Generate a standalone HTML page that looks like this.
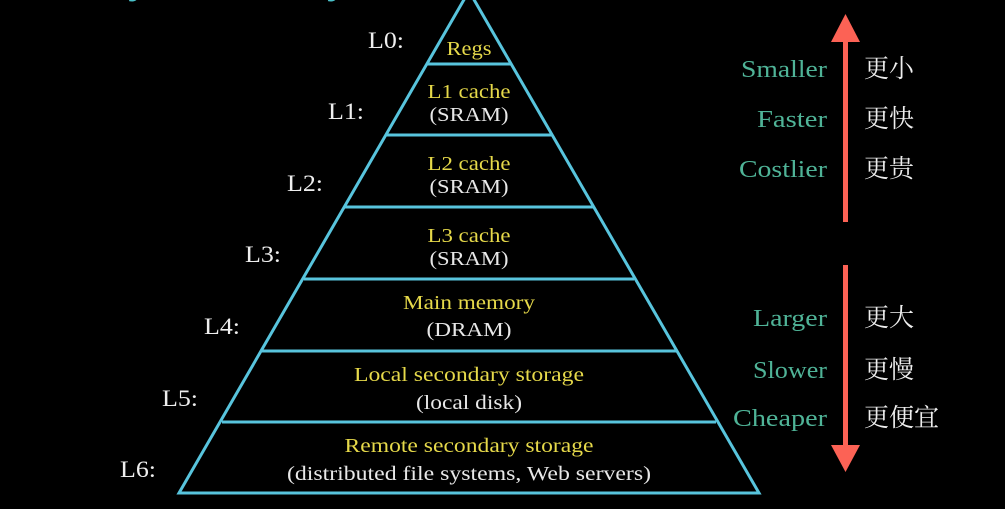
<!DOCTYPE html>
<html><head><meta charset="utf-8"><style>
html,body{margin:0;padding:0;background:#000;width:1005px;height:509px;overflow:hidden}
svg{display:block}
.s{font-family:"Liberation Serif","Noto Serif CJK SC",serif}
.y{fill:#e6d94a;font-size:20px}
.w{fill:#e8e8e8;font-size:20px}
.l{fill:#eeeeee;font-size:23px}
.t{fill:#4fb397;font-size:24px}
.c{fill:#eeeeee;font-size:25px;font-family:"Noto Serif CJK SC","Noto Sans CJK SC",serif}
</style></head><body>
<svg width="1005" height="509" viewBox="0 0 1005 509" xmlns="http://www.w3.org/2000/svg">
<text x="0" y="-8" class="s" style="fill:#49c0c8;font-size:46px;font-style:italic">Memory Hierarchy</text>
<g stroke="#58c4dd" stroke-width="3" fill="none">
<polygon points="469,-9 759,493 179,493" stroke-linejoin="miter"/>
<line x1="427" y1="64" x2="511" y2="64"/>
<line x1="386" y1="135" x2="552" y2="135"/>
<line x1="345" y1="207" x2="593" y2="207"/>
<line x1="304" y1="279" x2="634" y2="279"/>
<line x1="262" y1="351" x2="676" y2="351"/>
<line x1="222" y1="422" x2="716" y2="422"/>
</g>
<g class="s" text-anchor="middle" lengthAdjust="spacingAndGlyphs">
<text x="469" y="55" class="y" textLength="45" lengthAdjust="spacingAndGlyphs">Regs</text>
<text x="469" y="98" class="y" textLength="83" lengthAdjust="spacingAndGlyphs">L1 cache</text>
<text x="469" y="121" class="w" textLength="79" lengthAdjust="spacingAndGlyphs">(SRAM)</text>
<text x="469" y="170" class="y" textLength="83" lengthAdjust="spacingAndGlyphs">L2 cache</text>
<text x="469" y="193" class="w" textLength="79" lengthAdjust="spacingAndGlyphs">(SRAM)</text>
<text x="469" y="242" class="y" textLength="83" lengthAdjust="spacingAndGlyphs">L3 cache</text>
<text x="469" y="265" class="w" textLength="79" lengthAdjust="spacingAndGlyphs">(SRAM)</text>
<text x="469" y="309" class="y" textLength="132" lengthAdjust="spacingAndGlyphs">Main memory</text>
<text x="469" y="336" class="w" textLength="85" lengthAdjust="spacingAndGlyphs">(DRAM)</text>
<text x="469" y="381" class="y" textLength="230" lengthAdjust="spacingAndGlyphs">Local secondary storage</text>
<text x="469" y="409" class="w" textLength="106" lengthAdjust="spacingAndGlyphs">(local disk)</text>
<text x="469" y="452" class="y" textLength="249" lengthAdjust="spacingAndGlyphs">Remote secondary storage</text>
<text x="469" y="480" class="w" textLength="364" lengthAdjust="spacingAndGlyphs">(distributed file systems, Web servers)</text>
</g>
<g class="s l">
<text x="368" y="48" textLength="36" lengthAdjust="spacingAndGlyphs">L0:</text>
<text x="328" y="119" textLength="36" lengthAdjust="spacingAndGlyphs">L1:</text>
<text x="287" y="191" textLength="36" lengthAdjust="spacingAndGlyphs">L2:</text>
<text x="245" y="262" textLength="36" lengthAdjust="spacingAndGlyphs">L3:</text>
<text x="204" y="334" textLength="36" lengthAdjust="spacingAndGlyphs">L4:</text>
<text x="162" y="406" textLength="36" lengthAdjust="spacingAndGlyphs">L5:</text>
<text x="120" y="477" textLength="36" lengthAdjust="spacingAndGlyphs">L6:</text>
</g>
<g class="s t">
<text x="741" y="77" textLength="86" lengthAdjust="spacingAndGlyphs">Smaller</text>
<text x="757" y="127" textLength="70" lengthAdjust="spacingAndGlyphs">Faster</text>
<text x="739" y="177" textLength="88" lengthAdjust="spacingAndGlyphs">Costlier</text>
<text x="753" y="326" textLength="74" lengthAdjust="spacingAndGlyphs">Larger</text>
<text x="753" y="378" textLength="74" lengthAdjust="spacingAndGlyphs">Slower</text>
<text x="733" y="426" textLength="94" lengthAdjust="spacingAndGlyphs">Cheaper</text>
</g>
<g class="c">
<text x="864" y="77">更小</text>
<text x="864" y="127">更快</text>
<text x="864" y="177">更贵</text>
<text x="864" y="326">更大</text>
<text x="864" y="378">更慢</text>
<text x="864" y="426">更便宜</text>
</g>
<g fill="#fc6255">
<rect x="843" y="40" width="5" height="182"/>
<polygon points="845.5,14 860,42 831,42"/>
<rect x="843" y="265" width="5" height="182"/>
<polygon points="845.5,472 860,445 831,445"/>
</g>
</svg>
</body></html>
